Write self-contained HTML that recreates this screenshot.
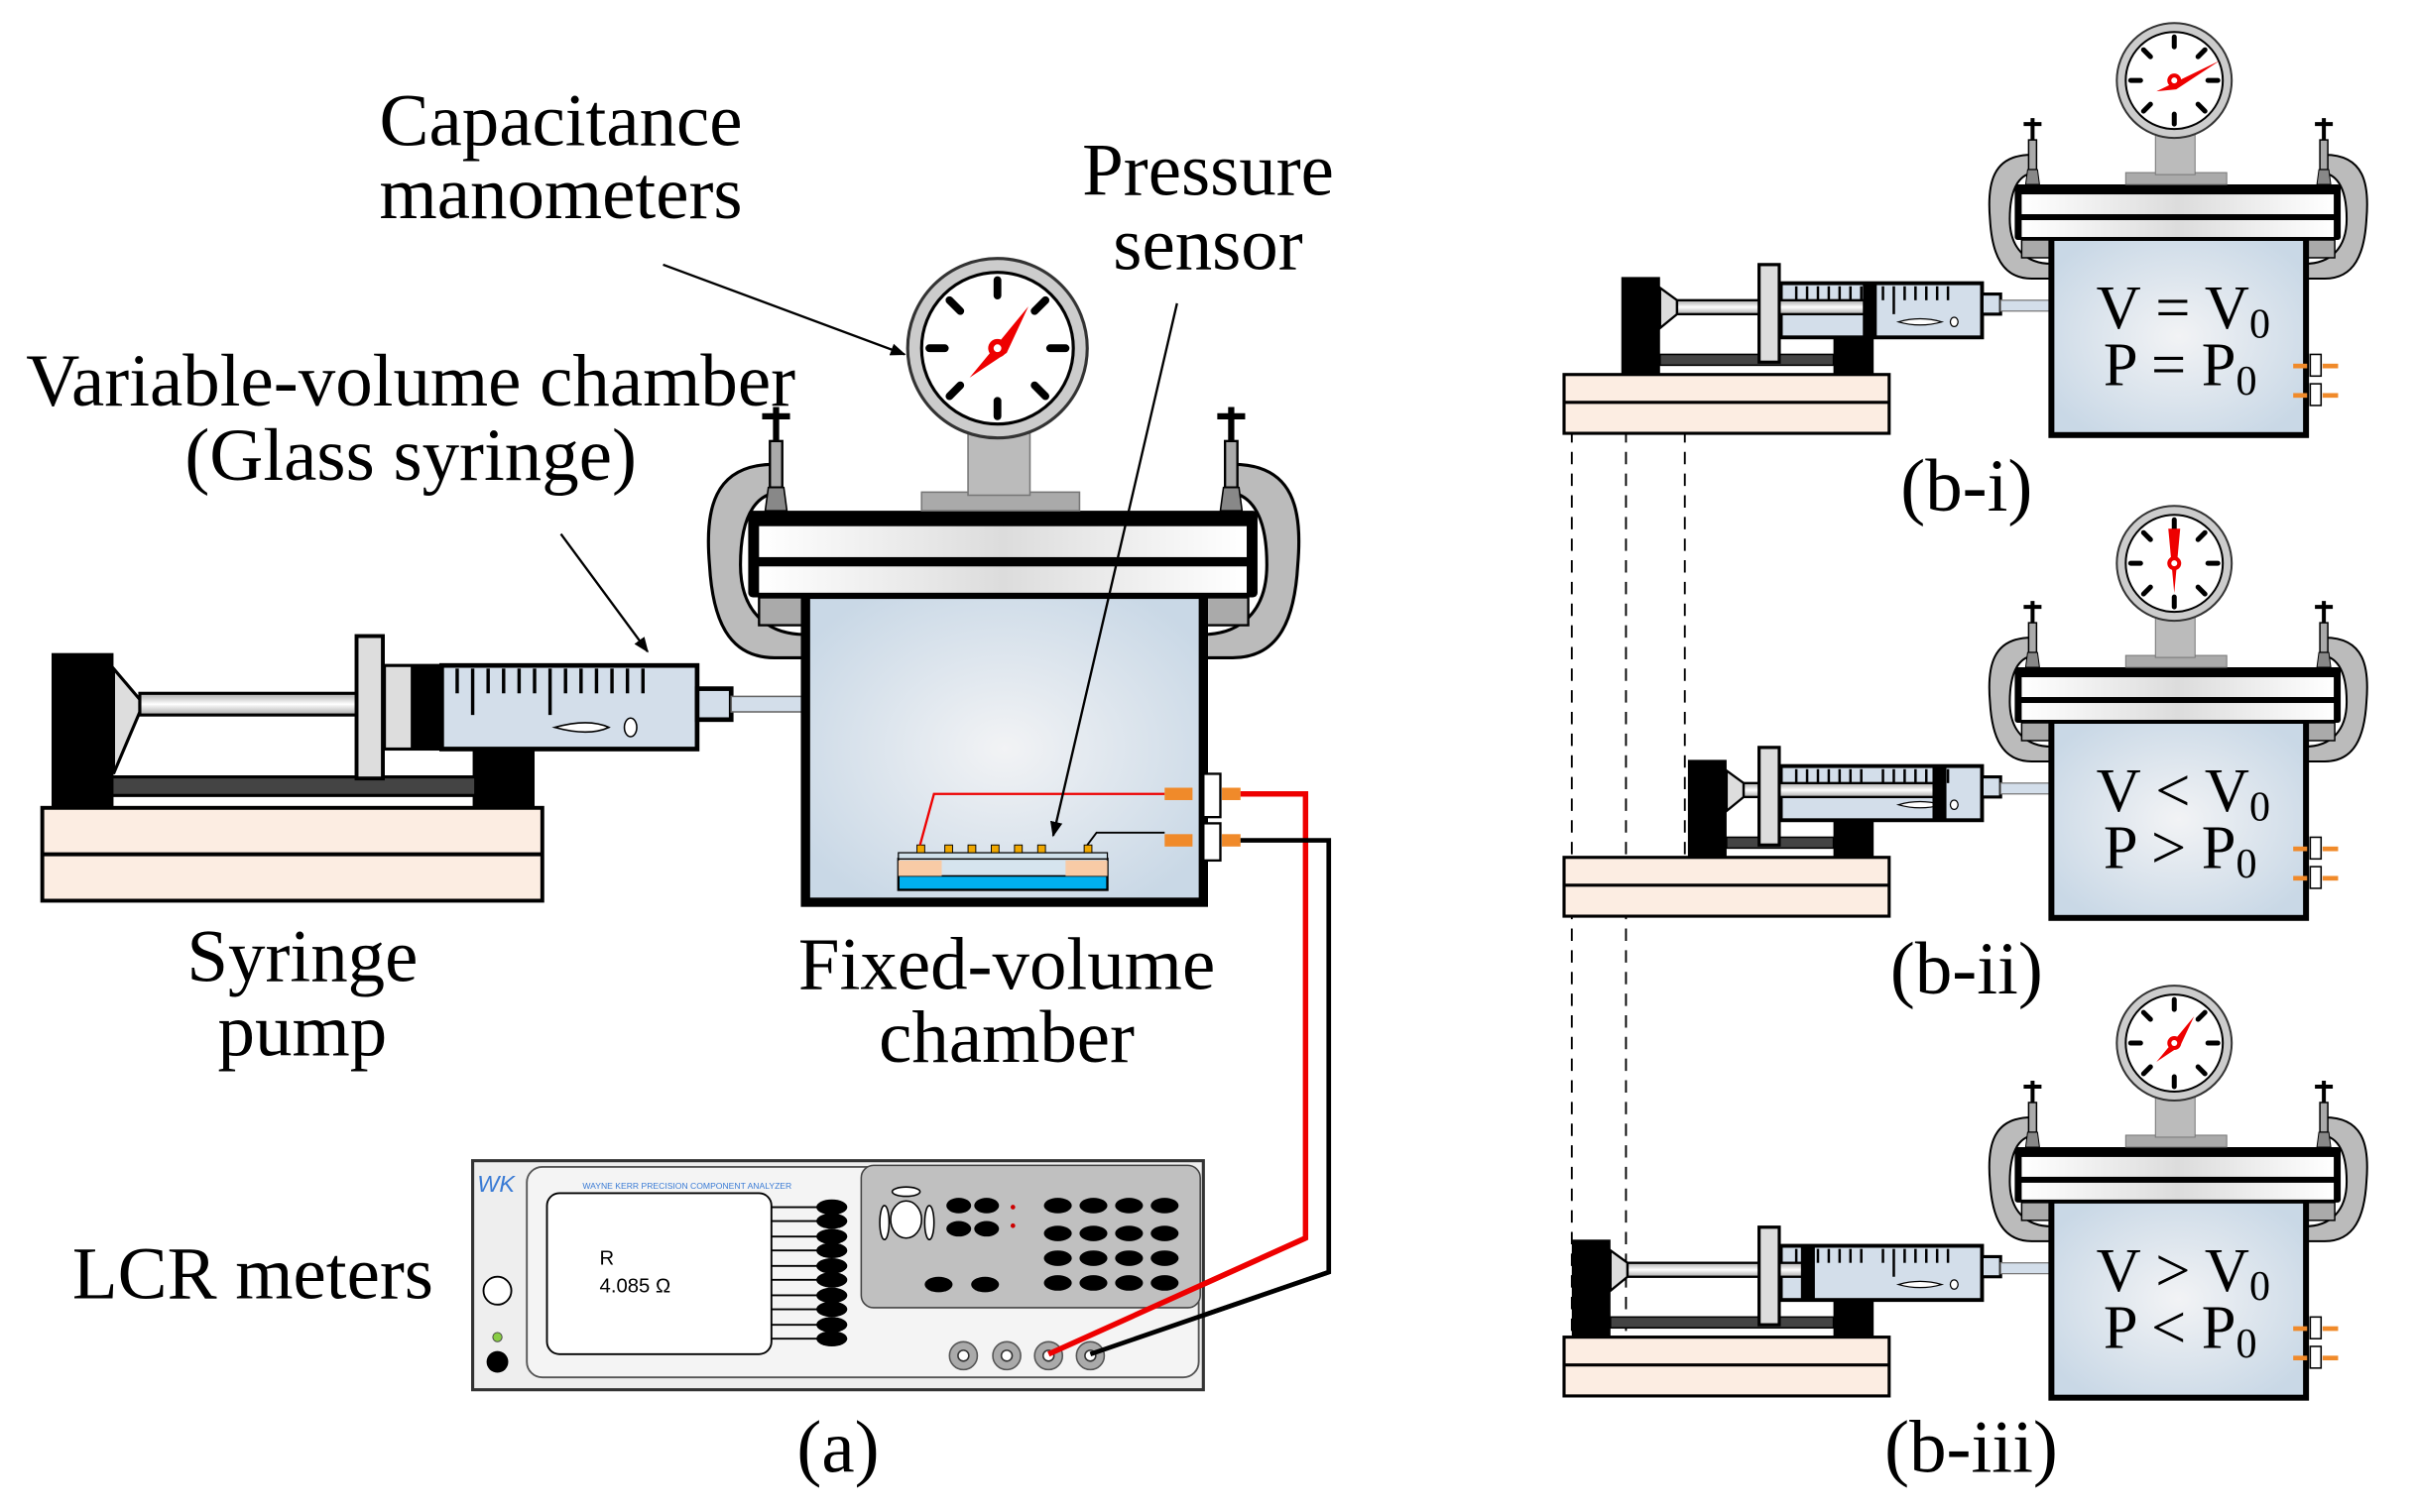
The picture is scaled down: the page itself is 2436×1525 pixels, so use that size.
<!DOCTYPE html>
<html><head><meta charset="utf-8"><style>
html,body{margin:0;padding:0;background:#fff;}
svg{display:block;}
text{font-family:"Liberation Serif",serif;fill:#000;}
</style></head><body>
<svg width="2436" height="1525" viewBox="0 0 1560 977" xmlns="http://www.w3.org/2000/svg">
<defs>
<radialGradient id="bg" cx="0.5" cy="0.5" r="0.6"><stop offset="0" stop-color="#f2f3f5"/><stop offset="1" stop-color="#c9d8e6"/></radialGradient>
<linearGradient id="bar" x1="0" y1="0" x2="1" y2="0"><stop offset="0" stop-color="#fff"/><stop offset="0.5" stop-color="#dcdcdc"/><stop offset="1" stop-color="#fff"/></linearGradient>
<linearGradient id="rod" x1="0" y1="0" x2="0" y2="1"><stop offset="0" stop-color="#aaa"/><stop offset="0.5" stop-color="#fff"/><stop offset="1" stop-color="#aaa"/></linearGradient>
<marker id="ah" markerWidth="10" markerHeight="10" refX="9" refY="5" orient="auto" markerUnits="userSpaceOnUse"><path d="M0,1 L10,5 L0,9 Z" fill="#000"/></marker>

<g id="clamp">
  <path d="M500,300 C460,300 455,330 458,365 C460,400 470,425 500,425 L520,425 L520,410 C495,410 478,395 478,365 C478,330 490,318 505,318 Z" fill="#bbb" stroke="#000" stroke-width="2"/>
  <rect x="497" y="285" width="8" height="30" fill="#aaa" stroke="#000" stroke-width="1.5"/>
  <rect x="492" y="267" width="18" height="4" fill="#000"/>
  <rect x="499" y="263" width="4" height="22" fill="#000"/>
  <path d="M496,315 L506,315 L508,330 L494,330Z" fill="#888" stroke="#000"/>
  <rect x="490" y="386" width="28" height="18" fill="#aaa" stroke="#000" stroke-width="1.5"/>
</g>

<g id="chamber">
  <use href="#clamp"/>
  <use href="#clamp" transform="translate(1296,0) scale(-1,1)"/>
  <rect x="520" y="384" width="257" height="199" fill="url(#bg)" stroke="#000" stroke-width="6"/>
  <rect x="483" y="330" width="329" height="56" fill="#000" rx="3"/>
  <rect x="490" y="340" width="315" height="20" fill="url(#bar)"/>
  <rect x="490" y="366" width="315" height="17" fill="url(#bar)"/>
  <rect x="595" y="318" width="102" height="12" fill="#aaa" stroke="#777"/>
  <rect x="625" y="280" width="40" height="40" fill="#bbb" stroke="#777"/>
  <circle cx="644" cy="225" r="58" fill="#ccc" stroke="#333" stroke-width="2"/>
  <circle cx="644" cy="225" r="49" fill="#fff" stroke="#000" stroke-width="2"/>
  <g stroke="#000" stroke-width="5" stroke-linecap="round">
    <line x1="644" y1="181" x2="644" y2="191"/><line x1="644" y1="259" x2="644" y2="269"/>
    <line x1="600" y1="225" x2="610" y2="225"/><line x1="678" y1="225" x2="688" y2="225"/>
    <line x1="613" y1="194" x2="620" y2="201"/><line x1="668" y1="249" x2="675" y2="256"/>
    <line x1="675" y1="194" x2="668" y2="201"/><line x1="613" y1="256" x2="620" y2="249"/>
  </g>
</g>

<!-- b syringe fixed part (displayed coords, b-i position) -->
<g id="bfix">
  <rect x="1010" y="242" width="210" height="38" fill="#fcede2" stroke="#000" stroke-width="2"/>
  <line x1="1010" y1="260" x2="1220" y2="260" stroke="#000" stroke-width="2"/>
  <rect x="1184" y="218" width="26" height="24" fill="#000"/>
  <rect x="1150" y="183" width="130" height="35" fill="#d3deea" stroke="#000" stroke-width="2.5"/>
  <g stroke="#000" stroke-width="1.6">
    <line x1="1160" y1="185" x2="1160" y2="194"/><line x1="1167" y1="185" x2="1167" y2="194"/><line x1="1174" y1="185" x2="1174" y2="194"/><line x1="1181" y1="185" x2="1181" y2="194"/><line x1="1188" y1="185" x2="1188" y2="194"/><line x1="1195" y1="185" x2="1195" y2="194"/><line x1="1202" y1="185" x2="1202" y2="194"/><line x1="1216" y1="185" x2="1216" y2="194"/><line x1="1223" y1="185" x2="1223" y2="203"/><line x1="1230" y1="185" x2="1230" y2="194"/><line x1="1237" y1="185" x2="1237" y2="194"/><line x1="1244" y1="185" x2="1244" y2="194"/><line x1="1251" y1="185" x2="1251" y2="194"/><line x1="1258" y1="185" x2="1258" y2="194"/>
  </g>
  <path d="M1226,208 Q1240,204 1254,208 Q1240,212 1226,208Z" fill="#fff" stroke="#000" stroke-width="0.8"/>
  <ellipse cx="1262" cy="208" rx="2.5" ry="3" fill="#fff" stroke="#000" stroke-width="0.8"/>
  <rect x="1280" y="190" width="12" height="13" fill="#d3deea" stroke="#000" stroke-width="2"/>
  <rect x="1292" y="194" width="40" height="7" fill="#d3deea" stroke="#777" stroke-width="0.8"/>
  <rect x="1136" y="171" width="13" height="63" fill="#ddd" stroke="#000" stroke-width="2"/>
</g>
</defs>

<!-- Panel (a) -->
<rect x="27" y="522" width="323" height="60" fill="#fcede2" stroke="#000" stroke-width="2.5"/>
<line x1="27" y1="552" x2="350" y2="552" stroke="#000" stroke-width="2.5"/>
<rect x="305" y="484" width="40" height="38" fill="#000"/>
<rect x="33" y="422" width="40" height="100" fill="#000"/>
<path d="M73,432 L90,452 L90,460 L73,500Z" fill="#ddd" stroke="#000" stroke-width="2"/>
<rect x="72" y="502" width="235" height="12" fill="#444" stroke="#000" stroke-width="2"/>
<rect x="90" y="448" width="145" height="14" fill="url(#rod)" stroke="#000" stroke-width="2"/>
<rect x="230" y="411" width="17" height="92" fill="#ddd" stroke="#000" stroke-width="2.5"/>
<rect x="248" y="430" width="37" height="54" fill="#ddd" stroke="#000" stroke-width="2"/>
<rect x="265" y="430" width="20" height="54" fill="#000"/>
<rect x="285" y="430" width="165" height="54" fill="#d3deea" stroke="#000" stroke-width="3"/>
<g stroke="#000" stroke-width="2.2">
  <line x1="295" y1="432" x2="295" y2="448"/><line x1="305" y1="432" x2="305" y2="462"/><line x1="315" y1="432" x2="315" y2="448"/><line x1="325" y1="432" x2="325" y2="448"/><line x1="335" y1="432" x2="335" y2="448"/><line x1="345" y1="432" x2="345" y2="448"/><line x1="355" y1="432" x2="355" y2="462"/><line x1="365" y1="432" x2="365" y2="448"/><line x1="375" y1="432" x2="375" y2="448"/><line x1="385" y1="432" x2="385" y2="448"/><line x1="395" y1="432" x2="395" y2="448"/><line x1="405" y1="432" x2="405" y2="448"/><line x1="415" y1="432" x2="415" y2="448"/>
</g>
<path d="M358,470 Q380,464 393,470 Q380,476 358,470Z" fill="#fff" stroke="#000"/>
<ellipse cx="407" cy="470" rx="4" ry="6" fill="#fff" stroke="#000"/>
<rect x="450" y="445" width="22" height="20" fill="#d3deea" stroke="#000" stroke-width="3"/>
<rect x="472" y="450" width="50" height="10" fill="#d3deea" stroke="#666"/>

<use href="#chamber"/>
<path d="M626,244 L664,198 L650,228Z" fill="#e00"/>
<circle cx="644" cy="225" r="6" fill="#e00"/><circle cx="644" cy="225" r="2.5" fill="#fff"/>
<!-- sensor -->
<rect x="580" y="555" width="135" height="20" fill="#00b0f0" stroke="#000" stroke-width="1.5"/>
<rect x="580" y="555" width="135" height="11" fill="#d6e4ee" stroke="#000" stroke-width="1"/>
<rect x="580" y="556" width="28" height="10" fill="#f8cba6"/><rect x="688" y="556" width="27" height="10" fill="#f8cba6"/>
<rect x="580" y="551" width="135" height="4" fill="#cfe0ea" stroke="#000" stroke-width="0.8"/>
<g fill="#f0a800" stroke="#000" stroke-width="0.6"><rect x="592" y="546" width="5" height="5"/><rect x="610" y="546" width="5" height="5"/><rect x="625" y="546" width="5" height="5"/><rect x="640" y="546" width="5" height="5"/><rect x="655" y="546" width="5" height="5"/><rect x="670" y="546" width="5" height="5"/><rect x="700" y="546" width="5" height="5"/></g>
<polyline points="594,546 603,513 752,513" fill="none" stroke="#e00" stroke-width="1.5"/>
<polyline points="702,546 708,538 752,538" fill="none" stroke="#000" stroke-width="1.2"/>
<rect x="752" y="509" width="18" height="8" fill="#f08a2a"/><rect x="752" y="539" width="18" height="8" fill="#f08a2a"/>
<rect x="777" y="500" width="11" height="28" fill="#fff" stroke="#000" stroke-width="1.5"/>
<rect x="777" y="532" width="11" height="24" fill="#fff" stroke="#000" stroke-width="1.5"/>
<rect x="789" y="509" width="12" height="8" fill="#f08a2a"/><rect x="789" y="539" width="12" height="8" fill="#f08a2a"/>
<polyline points="801,513 843,513 843,800 677,875" fill="none" stroke="#e00" stroke-width="3.5"/>
<polyline points="801,543 858,543 858,822 704,875" fill="none" stroke="#000" stroke-width="3"/>

<!-- LCR meter -->
<rect x="305" y="750" width="472" height="148" fill="#eee" stroke="#333" stroke-width="2"/>
<rect x="340" y="754" width="434" height="136" rx="10" fill="#f4f4f4" stroke="#555" stroke-width="1.2"/>
<text x="308" y="770" font-size="15" font-style="italic" style="fill:#3a7bd5;font-family:'Liberation Sans',sans-serif">WK</text>
<text x="376" y="768" font-size="5.5" style="fill:#3a7bd5;font-family:'Liberation Sans',sans-serif">WAYNE KERR PRECISION COMPONENT ANALYZER</text>
<rect x="353" y="771" width="145" height="104" rx="8" fill="#fff" stroke="#000" stroke-width="1.2"/>
<text x="387" y="817" font-size="13" style="font-family:'Liberation Sans',sans-serif">R</text>
<text x="387" y="835" font-size="13" style="font-family:'Liberation Sans',sans-serif">4.085 Ω</text>
<g stroke="#000" stroke-width="1.2"><line x1="498" y1="780" x2="528" y2="780"/><line x1="498" y1="789" x2="528" y2="789"/><line x1="498" y1="799" x2="528" y2="799"/><line x1="498" y1="808" x2="528" y2="808"/><line x1="498" y1="818" x2="528" y2="818"/><line x1="498" y1="827" x2="528" y2="827"/><line x1="498" y1="837" x2="528" y2="837"/><line x1="498" y1="846" x2="528" y2="846"/><line x1="498" y1="856" x2="528" y2="856"/><line x1="498" y1="865" x2="528" y2="865"/></g>
<g fill="#000"><ellipse cx="537" cy="780" rx="10" ry="5"/><ellipse cx="537" cy="789" rx="10" ry="5"/><ellipse cx="537" cy="799" rx="10" ry="5"/><ellipse cx="537" cy="808" rx="10" ry="5"/><ellipse cx="537" cy="818" rx="10" ry="5"/><ellipse cx="537" cy="827" rx="10" ry="5"/><ellipse cx="537" cy="837" rx="10" ry="5"/><ellipse cx="537" cy="846" rx="10" ry="5"/><ellipse cx="537" cy="856" rx="10" ry="5"/><ellipse cx="537" cy="865" rx="10" ry="5"/></g>
<rect x="556" y="753" width="219" height="92" rx="8" fill="#c0c0c0" stroke="#444" stroke-width="1"/>
<ellipse cx="585" cy="788" rx="10" ry="12" fill="#fff" stroke="#000"/><ellipse cx="585" cy="770" rx="9" ry="3" fill="#fff" stroke="#000"/><ellipse cx="571" cy="790" rx="3" ry="11" fill="#fff" stroke="#000"/><ellipse cx="600" cy="790" rx="3" ry="11" fill="#fff" stroke="#000"/>
<g fill="#000">
<ellipse cx="619" cy="779" rx="8" ry="5"/><ellipse cx="637" cy="779" rx="8" ry="5"/><ellipse cx="619" cy="794" rx="8" ry="5"/><ellipse cx="637" cy="794" rx="8" ry="5"/>
<ellipse cx="683" cy="779" rx="9" ry="5"/><ellipse cx="706" cy="779" rx="9" ry="5"/><ellipse cx="729" cy="779" rx="9" ry="5"/><ellipse cx="752" cy="779" rx="9" ry="5"/>
<ellipse cx="683" cy="797" rx="9" ry="5"/><ellipse cx="706" cy="797" rx="9" ry="5"/><ellipse cx="729" cy="797" rx="9" ry="5"/><ellipse cx="752" cy="797" rx="9" ry="5"/>
<ellipse cx="683" cy="813" rx="9" ry="5"/><ellipse cx="706" cy="813" rx="9" ry="5"/><ellipse cx="729" cy="813" rx="9" ry="5"/><ellipse cx="752" cy="813" rx="9" ry="5"/>
<ellipse cx="683" cy="829" rx="9" ry="5"/><ellipse cx="706" cy="829" rx="9" ry="5"/><ellipse cx="729" cy="829" rx="9" ry="5"/><ellipse cx="752" cy="829" rx="9" ry="5"/>
<ellipse cx="606" cy="830" rx="9" ry="5"/><ellipse cx="636" cy="830" rx="9" ry="5"/></g>
<circle cx="654" cy="780" r="1.5" fill="#c00"/><circle cx="654" cy="792" r="1.5" fill="#c00"/>
<circle cx="321" cy="834" r="9" fill="#fff" stroke="#000" stroke-width="1.2"/>
<circle cx="321" cy="864" r="3" fill="#8c4" stroke="#444" stroke-width="0.6"/>
<circle cx="321" cy="880" r="7" fill="#000"/>
<g fill="#aaa" stroke="#555"><circle cx="622" cy="876" r="9"/><circle cx="650" cy="876" r="9"/><circle cx="677" cy="876" r="9"/><circle cx="704" cy="876" r="9"/></g>
<g fill="#fff" stroke="#333"><circle cx="622" cy="876" r="3.5"/><circle cx="650" cy="876" r="3.5"/><circle cx="677" cy="876" r="3.5"/><circle cx="704" cy="876" r="3.5"/></g>
<line x1="843" y1="800" x2="677" y2="875" stroke="#e00" stroke-width="3.5"/>
<line x1="858" y1="822" x2="704" y2="875" stroke="#000" stroke-width="3"/>

<!-- Arrows -->
<line x1="428" y1="171" x2="584" y2="229" stroke="#000" stroke-width="1.5" marker-end="url(#ah)"/>
<line x1="362" y1="345" x2="418" y2="421" stroke="#000" stroke-width="1.5" marker-end="url(#ah)"/>
<line x1="760" y1="196" x2="680" y2="540" stroke="#000" stroke-width="1.5" marker-end="url(#ah)"/>

<!-- Labels -->
<g font-size="48" text-anchor="middle">
<text x="362" y="94">Capacitance</text>
<text x="362" y="141">manometers</text>
<text x="780" y="126">Pressure</text>
<text x="780" y="174">sensor</text>
<text x="265" y="262">Variable-volume chamber</text>
<text x="265" y="310">(Glass syringe)</text>
<text x="195" y="634">Syringe</text>
<text x="195" y="682">pump</text>
<text x="650" y="639">Fixed-volume</text>
<text x="650" y="686">chamber</text>
<text x="163" y="839">LCR meters</text>
<text x="541" y="951">(a)</text>
<text x="1270" y="330">(b-i)</text>
<text x="1270" y="642">(b-ii)</text>
<text x="1273" y="951">(b-iii)</text>
</g>

<!-- Panel (b) dashed guides -->
<g stroke="#000" stroke-width="1.2" stroke-dasharray="8,6" fill="none">
<line x1="1015" y1="250" x2="1015" y2="905"/><line x1="1050" y1="250" x2="1050" y2="905"/><line x1="1088" y1="250" x2="1088" y2="590"/>
</g>

<!-- b-i syringe: end 1047, head 1205 -->
<use href="#bfix"/>
<rect x="1072" y="229" width="112" height="7" fill="#444" stroke="#000"/>
<rect x="1047" y="179" width="25" height="63" fill="#000"/>
<path d="M1072,186 L1083,194 L1083,203 L1072,212Z" fill="#ddd" stroke="#000" stroke-width="1.5"/>
<rect x="1083" y="194" width="122" height="9" fill="url(#rod)" stroke="#000" stroke-width="1.5"/>
<rect x="1136" y="171" width="13" height="63" fill="#ddd" stroke="#000" stroke-width="2"/>
<rect x="1203" y="184" width="9" height="33" fill="#000"/>

<!-- b-ii syringe: end 1090, head 1250 -->
<g transform="translate(0,312)">
<use href="#bfix"/>
<rect x="1115" y="229" width="69" height="7" fill="#444" stroke="#000"/>
<rect x="1090" y="179" width="25" height="63" fill="#000"/>
<path d="M1115,186 L1126,194 L1126,203 L1115,212Z" fill="#ddd" stroke="#000" stroke-width="1.5"/>
<rect x="1126" y="194" width="124" height="9" fill="url(#rod)" stroke="#000" stroke-width="1.5"/>
<rect x="1136" y="171" width="13" height="63" fill="#ddd" stroke="#000" stroke-width="2"/>
<rect x="1248" y="184" width="9" height="33" fill="#000"/>
</g>

<!-- b-iii syringe: end 1015, head 1165 -->
<g transform="translate(0,622)">
<use href="#bfix"/>
<rect x="1040" y="229" width="144" height="7" fill="#444" stroke="#000"/>
<rect x="1015" y="179" width="25" height="63" fill="#000"/>
<path d="M1040,186 L1051,194 L1051,203 L1040,212Z" fill="#ddd" stroke="#000" stroke-width="1.5"/>
<rect x="1051" y="194" width="114" height="9" fill="url(#rod)" stroke="#000" stroke-width="1.5"/>
<rect x="1136" y="171" width="13" height="63" fill="#ddd" stroke="#000" stroke-width="2"/>
<rect x="1163" y="184" width="9" height="33" fill="#000"/>
</g>

<g transform="translate(992,-92) scale(0.64)"><use href="#chamber"/>
<path d="M626,236 L690,205 L646,234Z" fill="#e00"/><circle cx="644" cy="225" r="7" fill="#e00"/><circle cx="644" cy="225" r="3" fill="#fff"/></g>
<g transform="translate(992,220) scale(0.64)"><use href="#chamber"/>
<path d="M638,190 L650,190 L644,255Z" fill="#e00"/><circle cx="644" cy="225" r="7" fill="#e00"/><circle cx="644" cy="225" r="3" fill="#fff"/></g>
<g transform="translate(992,530) scale(0.64)"><use href="#chamber"/>
<path d="M626,244 L664,198 L650,228Z" fill="#e00"/><circle cx="644" cy="225" r="7" fill="#e00"/><circle cx="644" cy="225" r="3" fill="#fff"/></g>

<!-- b ports -->
<g transform="translate(-5,-4)">
<rect x="1497" y="233" width="7" height="14" fill="#fff" stroke="#000"/><rect x="1497" y="252" width="7" height="14" fill="#fff" stroke="#000"/>
<rect x="1497" y="545" width="7" height="14" fill="#fff" stroke="#000"/><rect x="1497" y="564" width="7" height="14" fill="#fff" stroke="#000"/>
<rect x="1497" y="855" width="7" height="14" fill="#fff" stroke="#000"/><rect x="1497" y="874" width="7" height="14" fill="#fff" stroke="#000"/>
<g fill="#f08a2a"><rect x="1486" y="239" width="9" height="3"/><rect x="1505" y="239" width="10" height="3"/><rect x="1486" y="258" width="9" height="3"/><rect x="1505" y="258" width="10" height="3"/>
<rect x="1486" y="551" width="9" height="3"/><rect x="1505" y="551" width="10" height="3"/><rect x="1486" y="570" width="9" height="3"/><rect x="1505" y="570" width="10" height="3"/>
<rect x="1486" y="861" width="9" height="3"/><rect x="1505" y="861" width="10" height="3"/><rect x="1486" y="880" width="9" height="3"/><rect x="1505" y="880" width="10" height="3"/></g>
</g>
<g font-size="40" text-anchor="middle">
<text x="1410" y="212">V = V<tspan font-size="27" dy="6">0</tspan></text>
<text x="1408" y="249">P = P<tspan font-size="27" dy="6">0</tspan></text>
<text x="1410" y="524">V &lt; V<tspan font-size="27" dy="6">0</tspan></text>
<text x="1408" y="561">P &gt; P<tspan font-size="27" dy="6">0</tspan></text>
<text x="1410" y="834">V &gt; V<tspan font-size="27" dy="6">0</tspan></text>
<text x="1408" y="871">P &lt; P<tspan font-size="27" dy="6">0</tspan></text>
</g>
</svg>
</body></html>
